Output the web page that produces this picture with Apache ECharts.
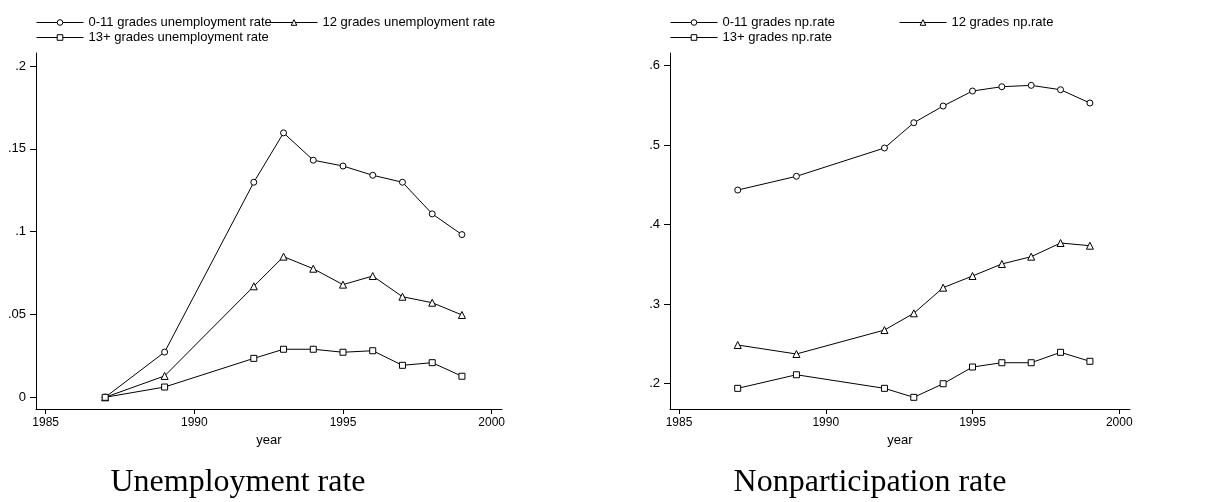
<!DOCTYPE html>
<html>
<head>
<meta charset="utf-8">
<script src="https://cdn.jsdelivr.net/npm/echarts@6/dist/echarts.min.js"></script>
<style>
html,body{margin:0;padding:0;background:#fff;}
#chart{width:1218px;height:502px;}
</style>
</head>
<body>
<div id="chart"></div>
<script>
// ---- data ----
var years = [1987, 1989, 1992, 1993, 1994, 1995, 1996, 1997, 1998, 1999];

var unemp011 = [0, 0.0273, 0.1298, 0.1596, 0.1431, 0.1396, 0.1340, 0.1298, 0.1107, 0.0982];
var unemp12  = [0, 0.0129, 0.0670, 0.0849, 0.0776, 0.0680, 0.0732, 0.0607, 0.0571, 0.0497];
var unemp13  = [0, 0.0062, 0.0235, 0.0290, 0.0290, 0.0272, 0.0281, 0.0193, 0.0209, 0.0127];

var np011 = [0.4436, 0.4609, 0.4965, 0.5283, 0.5493, 0.5682, 0.5736, 0.5753, 0.5698, 0.5531];
var np12  = [0.2487, 0.2374, 0.2675, 0.2886, 0.3208, 0.3355, 0.3506, 0.3598, 0.3770, 0.3736];
var np13  = [0.1942, 0.2113, 0.1942, 0.1829, 0.2000, 0.2210, 0.2264, 0.2264, 0.2395, 0.2282];

var xTicks = [1985, 1990, 1995, 2000];
var yTicksLeft = [0, 0.05, 0.1, 0.15, 0.2];
var yTicksRight = [0.2, 0.3, 0.4, 0.5, 0.6];

var namesLeft = ['0-11 grades unemployment rate', '12 grades unemployment rate', '13+ grades unemployment rate'];
var namesRight = ['0-11 grades np.rate', '12 grades np.rate', '13+ grades np.rate'];
var titleLeft = 'Unemployment rate';
var titleRight = 'Nonparticipation rate';
var xName = 'year';

// ---- build ----
function pairs(vals) { return years.map(function (y, i) { return [y, vals[i]]; }); }
function fmt(v) {
  var s = String(Math.round(v * 1000) / 1000);
  if (s.indexOf('0.') === 0) s = s.substring(1);
  return s;
}
var sansFont = 'Liberation Sans, Arial, sans-serif';
var serifFont = 'Liberation Serif, Times New Roman, serif';
var symbols = ['circle', 'triangle', 'rect'];
var symSizes = [6, 7, 6];

function xAxis(gridIndex, min, max) {
  return {
    type: 'value', gridIndex: gridIndex, min: min, max: max,
    name: xName, nameLocation: 'middle', nameGap: 24,
    nameTextStyle: { fontFamily: sansFont, fontSize: 13, color: '#000' },
    splitLine: { show: false },
    axisLine: { show: true, onZero: false, lineStyle: { color: '#000', width: 1 } },
    axisTick: { show: true, length: 5, customValues: xTicks, lineStyle: { color: '#000' } },
    axisLabel: { customValues: xTicks, margin: 8, fontFamily: sansFont, fontSize: 12, color: '#000',
      formatter: function (v) { return String(Math.round(v)); } }
  };
}
function yAxis(gridIndex, min, max, ticks) {
  return {
    type: 'value', gridIndex: gridIndex, min: min, max: max,
    splitLine: { show: false },
    axisLine: { show: true, onZero: false, lineStyle: { color: '#000', width: 1 } },
    axisTick: { show: true, length: 6, customValues: ticks, lineStyle: { color: '#000' } },
    axisLabel: { customValues: ticks, margin: 10, fontFamily: sansFont, fontSize: 13, color: '#000',
      formatter: fmt }
  };
}
function series(name, vals, idx, axisIdx) {
  return {
    type: 'line', name: name, data: pairs(vals),
    xAxisIndex: axisIdx, yAxisIndex: axisIdx,
    symbol: symbols[idx], symbolSize: symSizes[idx],
    itemStyle: { color: '#fff', borderColor: '#000', borderWidth: 1 },
    lineStyle: { color: '#000', width: 1 },
    emphasis: { disabled: true },
    animation: false
  };
}
function legend(name, left, top) {
  return {
    data: [name], left: left, top: top, padding: 0,
    itemWidth: 47, itemHeight: 7, selectedMode: false,
    lineStyle: { color: '#000', width: 1 },
    itemStyle: { color: '#fff', borderColor: '#000', borderWidth: 1 },
    textStyle: { fontFamily: sansFont, fontSize: 13, color: '#000' }
  };
}

var option = {
  backgroundColor: '#fff',
  animation: false,
  grid: [
    { left: 36, top: 53, width: 466, height: 356 },
    { left: 670, top: 53, width: 460, height: 356 }
  ],
  xAxis: [ xAxis(0, 1984.674, 2000.348), xAxis(1, 1984.693, 2000.366) ],
  yAxis: [ yAxis(0, -0.00706, 0.2078, yTicksLeft), yAxis(1, 0.1682, 0.616, yTicksRight) ],
  legend: [
    legend(namesLeft[0], 36, 16),
    legend(namesLeft[1], 270, 16),
    legend(namesLeft[2], 36, 31),
    legend(namesRight[0], 670, 16),
    legend(namesRight[1], 899, 16),
    legend(namesRight[2], 670, 31)
  ],
  series: [
    series(namesLeft[0], unemp011, 0, 0),
    series(namesLeft[1], unemp12, 1, 0),
    series(namesLeft[2], unemp13, 2, 0),
    series(namesRight[0], np011, 0, 1),
    series(namesRight[1], np12, 1, 1),
    series(namesRight[2], np13, 2, 1)
  ],
  graphic: [
    { type: 'text', x: 238, y: 483,
      style: { text: titleLeft, align: 'center', verticalAlign: 'middle',
        fontFamily: serifFont, fontSize: 32, fill: '#000' } },
    { type: 'text', x: 870, y: 483,
      style: { text: titleRight, align: 'center', verticalAlign: 'middle',
        fontFamily: serifFont, fontSize: 32, fill: '#000' } }
  ]
};

var chart = echarts.init(document.getElementById('chart'), null, { renderer: 'canvas' });
chart.setOption(option);
</script>
</body>
</html>
